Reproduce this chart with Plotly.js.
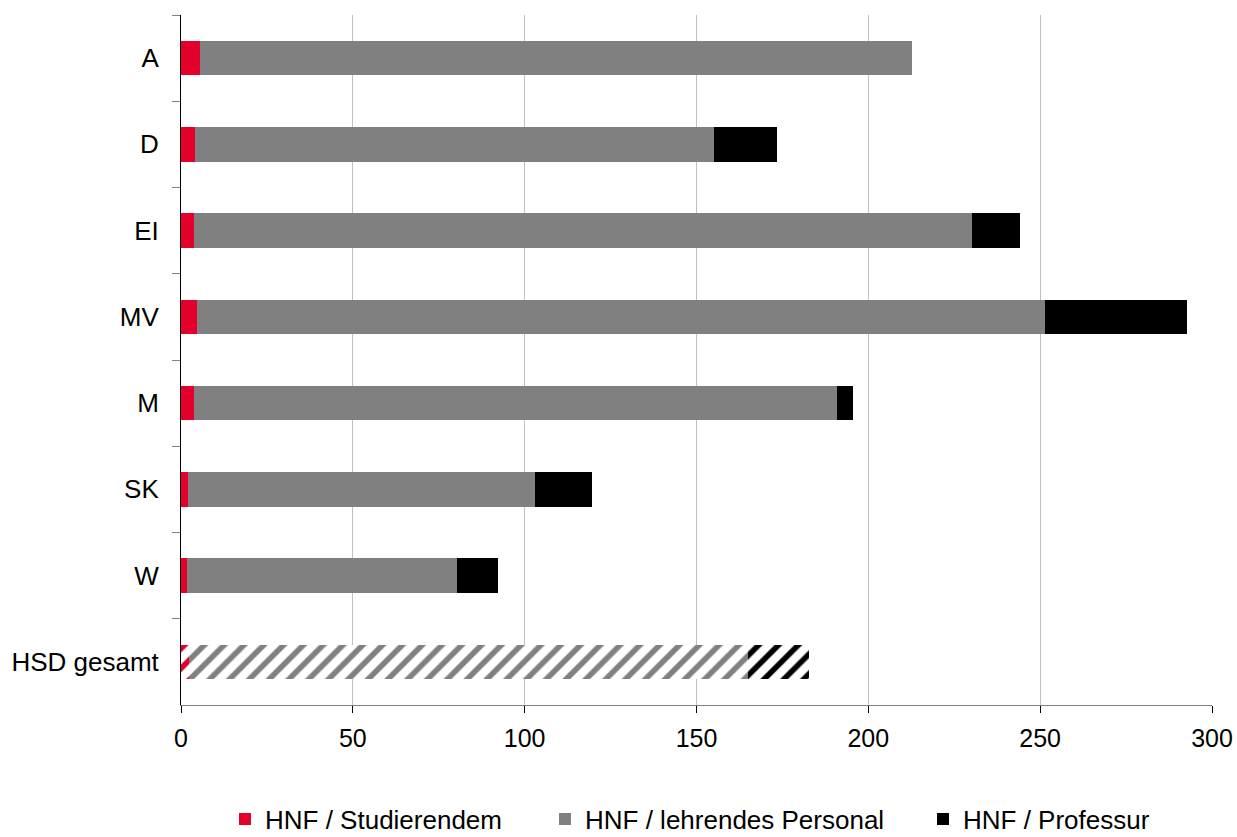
<!DOCTYPE html>
<html>
<head>
<meta charset="utf-8">
<script src="https://cdn.plot.ly/plotly-3.0.1.min.js"></script>
<style>html,body{margin:0;padding:0;background:#fff;}#chart{width:1237px;height:837px;}</style>
</head>
<body>
<div id="chart"></div>
<script>
const categories = ["A", "D", "EI", "MV", "M", "SK", "W", "HSD gesamt"];
const hnfStudierende = [5.5, 4.1, 3.8, 4.7, 3.8, 2.0, 1.7, 2.3];
const hnfLehrend = [207.2, 151.0, 226.3, 246.7, 187.1, 101.0, 78.6, 162.7];
const hnfProfessur = [0, 18.3, 14.0, 41.3, 4.6, 16.6, 11.9, 17.7];
const seriesNames = ["HNF / Studierendem", "HNF / lehrendes Personal", "HNF / Professur"];
const seriesColors = ["#E3002B", "#808080", "#000000"];
const xTicks = [0, 50, 100, 150, 200, 250, 300];

const patternShapes = categories.map(c => c === "HSD gesamt" ? "/" : "");
const legendIds = ["legend", "legend2", "legend3"];
const legendLeft = [225, 545, 923];

function mk(vals, i) {
  return {
    type: "bar",
    orientation: "h",
    name: seriesNames[i],
    legend: legendIds[i],
    y: categories,
    x: vals,
    marker: {
      color: seriesColors[i],
      line: {width: 0},
      pattern: {
        shape: patternShapes,
        fgcolor: seriesColors[i],
        bgcolor: "#ffffff",
        fillmode: "replace",
        size: 14,
        solidity: 0.4
      }
    },
    hoverinfo: "x+y+name"
  };
}

const data = [mk(hnfStudierende, 0), mk(hnfLehrend, 1), mk(hnfProfessur, 2)];

function legendAt(px) {
  return {
    orientation: "h",
    xref: "container",
    yref: "container",
    x: px / 1237,
    xanchor: "left",
    y: (837 - 819) / 837,
    yanchor: "middle",
    font: {size: 26, color: "#000"},
    bgcolor: "rgba(0,0,0,0)",
    borderwidth: 0
  };
}

const layout = {
  width: 1237,
  height: 837,
  margin: {l: 181, r: 25, t: 15, b: 132},
  barmode: "stack",
  bargap: 0.6,
  paper_bgcolor: "#ffffff",
  plot_bgcolor: "#ffffff",
  font: {family: "Liberation Sans, Arial, sans-serif", size: 25, color: "#000000"},
  showlegend: true,
  legend: legendAt(legendLeft[0]),
  legend2: legendAt(legendLeft[1]),
  legend3: legendAt(legendLeft[2]),
  xaxis: {
    range: [0, 300],
    tickvals: xTicks,
    ticktext: xTicks.map(String),
    showgrid: true,
    gridcolor: "#c0c0c0",
    gridwidth: 1,
    zeroline: false,
    showline: true,
    linecolor: "#808080",
    linewidth: 1,
    ticks: "outside",
    ticklen: 7,
    tickcolor: "#000000",
    tickfont: {size: 25},
    ticklabelstandoff: 4,
    automargin: false
  },
  yaxis: {
    type: "category",
    categoryorder: "array",
    categoryarray: categories,
    autorange: "reversed",
    showgrid: false,
    zeroline: false,
    showline: true,
    linecolor: "#000000",
    linewidth: 1,
    ticks: "outside",
    tickson: "boundaries",
    ticklen: 8,
    tickcolor: "#808080",
    tickfont: {size: 26},
    ticklabelstandoff: 16,
    automargin: false
  }
};

Plotly.newPlot("chart", data, layout, {displayModeBar: false, staticPlot: true});
</script>
</body>
</html>
